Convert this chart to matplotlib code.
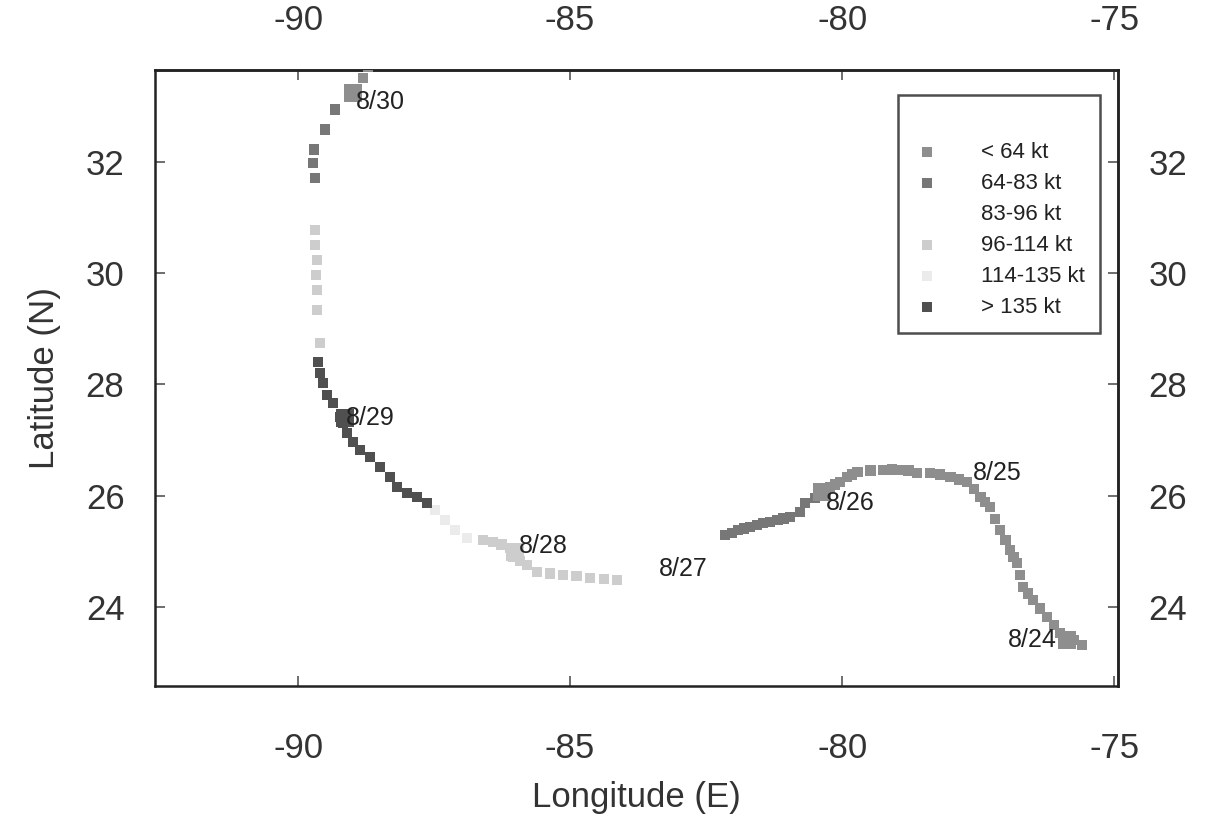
"""
Storm track plot - lat/lon positions coloured by intensity class,
with daily date tags along the path.
"""
import matplotlib
matplotlib.use("Agg")
import matplotlib.pyplot as plt

plt.rcParams["font.family"] = ["Liberation Sans", "DejaVu Sans"]
plt.rcParams["axes.unicode_minus"] = False

# ------------------------------------------------------------------ #
# Intensity classes
# ------------------------------------------------------------------ #
cat_labels = ["< 64 kt", "64-83 kt", "83-96 kt", "96-114 kt", "114-135 kt", "> 135 kt"]
cat_colors = ["#8e8e8e", "#777777", "#ffffff", "#cdcdcd", "#ebebeb", "#505050"]

# ------------------------------------------------------------------ #
# Track positions (8/24 -> 8/30), one list per
# stretch of constant intensity class
# ------------------------------------------------------------------ #
seg_cat = [0, 1, 2, 3, 4, 5, 3, 1, 0]
seg_lon = [
    [-75.59, -75.75, -75.87, -75.99, -76.11, -76.23, -76.36, -76.49, -76.58, -76.67,
     -76.73, -76.78, -76.85, -76.91, -77.00, -77.10, -77.19, -77.28, -77.37, -77.46,
     -77.58, -77.70, -77.85, -78.01, -78.20, -78.38, -78.62, -78.78, -78.93, -79.09,
     -79.25, -79.48, -79.72, -79.82, -79.91, -80.04, -80.13, -80.22, -80.31, -80.40],
    [-80.50, -80.68, -80.77, -80.96, -81.08, -81.19, -81.32, -81.45, -81.57, -81.69,
     -81.80, -81.91, -82.03, -82.15],
    [-82.61, -82.98, -83.35, -83.71, -83.99],
    [-84.14, -84.38, -84.63, -84.88, -85.13, -85.37, -85.61, -85.79, -85.92, -86.05,
     -86.10, -86.26, -86.42, -86.60],
    [-86.89, -87.11, -87.30, -87.48],
    [-87.63, -87.81, -88.00, -88.18, -88.31, -88.49, -88.68, -88.86, -88.99, -89.10,
     -89.17, -89.23, -89.36, -89.47, -89.54, -89.60, -89.63],
    [-89.60, -89.65, -89.65, -89.67, -89.65, -89.69, -89.69],
    [-89.69, -89.72, -89.71, -89.50, -89.32],
    [-88.81, -88.71],
]
seg_lat = [
    [23.31, 23.40, 23.46, 23.53, 23.67, 23.82, 23.97, 24.12, 24.24, 24.36,
     24.57, 24.79, 24.90, 25.02, 25.20, 25.38, 25.58, 25.79, 25.88, 25.97,
     26.12, 26.24, 26.29, 26.33, 26.38, 26.41, 26.41, 26.45, 26.46, 26.47,
     26.46, 26.45, 26.42, 26.38, 26.33, 26.24, 26.20, 26.15, 26.10, 26.06],
    [25.96, 25.87, 25.71, 25.62, 25.59, 25.56, 25.53, 25.51, 25.47, 25.44,
     25.41, 25.38, 25.33, 25.29],
    [25.09, 24.97, 24.84, 24.70, 24.59],
    [24.48, 24.50, 24.52, 24.55, 24.57, 24.60, 24.63, 24.75, 24.82, 24.90,
     25.06, 25.12, 25.17, 25.20],
    [25.24, 25.38, 25.56, 25.74],
    [25.87, 25.97, 26.05, 26.15, 26.33, 26.51, 26.69, 26.82, 26.96, 27.13,
     27.31, 27.41, 27.67, 27.81, 28.03, 28.21, 28.40],
    [28.74, 29.34, 29.70, 29.97, 30.24, 30.51, 30.78],
    [31.71, 31.98, 32.22, 32.58, 32.94],
    [33.51, 33.71],
]

# daily positions (bigger squares) and their tags
day_lon = [-75.86, -80.37, -86.01, -89.14, -88.99]
day_lat = [23.40, 26.06, 24.99, 27.40, 33.24]
day_cat = [0, 0, 3, 5, 0]

tag_text = ["8/24", "8/25", "8/26", "8/27", "8/28", "8/29", "8/30"]
tag_lon = [-76.51, -77.15, -79.85, -82.92, -85.50, -88.68, -88.49]
tag_lat = [23.40, 26.40, 25.87, 24.68, 25.09, 27.40, 33.08]

x_ticks = [-90, -85, -80, -75]
y_ticks = [24, 26, 28, 30, 32]

# ------------------------------------------------------------------ #
# Figure
# ------------------------------------------------------------------ #
fig = plt.figure(figsize=(12.08, 8.22), dpi=100)
ax = fig.add_axes([0.1283, 0.1655, 0.7972, 0.7494])

for xs, ys, c in zip(seg_lon, seg_lat, seg_cat):
    ax.scatter(xs, ys, s=55, marker="s", color=cat_colors[c], edgecolors="none", zorder=3)

# proxies for the legend
for label, color in zip(cat_labels, cat_colors):
    ax.scatter([], [], s=55, marker="s", color=color, edgecolors="none", label=label)

for x, y, c in zip(day_lon, day_lat, day_cat):
    ax.scatter(x, y, s=170, marker="s", color=cat_colors[c], edgecolors="none", zorder=4)

for t, x, y in zip(tag_text, tag_lon, tag_lat):
    ax.text(x, y, t, fontsize=18, color="#222222", ha="center", va="center", zorder=5)

ax.set_xlim(-92.63, -74.93)
ax.set_ylim(22.58, 33.65)
ax.set_xticks(x_ticks)
ax.set_yticks(y_ticks)
ax.tick_params(direction="in", length=7, width=1.2, labelsize=25, labelcolor="#333333",
               color="#555555")
ax.tick_params(axis="x", pad=33)
ax.tick_params(axis="y", pad=22)

top = ax.secondary_xaxis("top")
top.set_xticks(x_ticks)
top.tick_params(direction="in", length=7, width=1.2, labelsize=25, labelcolor="#333333",
                color="#555555", pad=24)
right = ax.secondary_yaxis("right")
right.set_yticks(y_ticks)
right.tick_params(direction="in", length=7, width=1.2, labelsize=25, labelcolor="#333333",
                  color="#555555", pad=22)

for sp in list(ax.spines.values()) + [top.spines["top"], right.spines["right"]]:
    sp.set_linewidth(1.8)
    sp.set_color("#222222")

ax.set_xlabel("Longitude (E)", fontsize=25, color="#333333", labelpad=12)
ax.set_ylabel("Latitude (N)", fontsize=25, color="#333333", labelpad=18)

leg = ax.legend(loc="upper right", bbox_to_anchor=(0.9813, 0.9594), borderaxespad=0,
                fontsize=16, title=" ", title_fontsize=16, frameon=True, fancybox=False,
                handletextpad=1.8, labelspacing=0.45, borderpad=0.7, handlelength=1.2)
leg.get_frame().set_edgecolor("#222222")
leg.get_frame().set_linewidth(1.8)
for t in leg.get_texts():
    t.set_color("#222222")

fig.savefig("out.png", dpi=100)
